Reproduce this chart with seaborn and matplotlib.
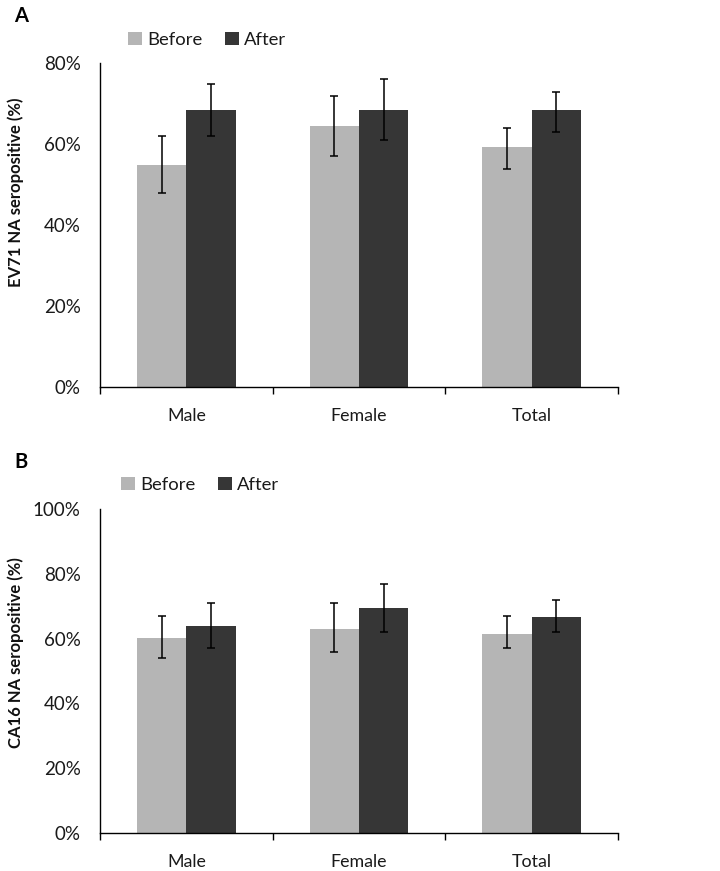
import numpy as np
import pandas as pd
import matplotlib
matplotlib.use("Agg")
import matplotlib.pyplot as plt
from matplotlib.ticker import PercentFormatter, FixedLocator, NullFormatter
from matplotlib.patches import Patch
import seaborn as sns

# ---------------- data ----------------
categories = ["Male", "Female", "Total"]
groups = ["Before", "After"]

ev71_before = [55.0, 64.5, 59.3]
ev71_after = [68.5, 68.5, 68.5]
ev71_before_lo = [48.0, 57.0, 54.0]
ev71_before_hi = [62.0, 72.0, 64.0]
ev71_after_lo = [62.0, 61.0, 63.0]
ev71_after_hi = [75.0, 76.0, 73.0]

ca16_before = [60.3, 63.1, 61.5]
ca16_after = [64.0, 69.5, 66.6]
ca16_before_lo = [54.0, 56.0, 57.0]
ca16_before_hi = [67.0, 71.0, 67.0]
ca16_after_lo = [57.0, 62.0, 62.0]
ca16_after_hi = [71.0, 77.0, 72.0]

colors = {"Before": "#b5b5b5", "After": "#363636"}

sns.set_theme(style="white")
plt.rcParams["font.family"] = ["Lato", "DejaVu Sans"]

fig = plt.figure(figsize=(7.2, 8.71), dpi=100)

def panel(rect, before, after, blo, bhi, alo, ahi, ymax, ylabel, letter,
          letter_xy, leg_xy, ylabel_y):
    ax = fig.add_axes(rect)
    df = pd.DataFrame({
        "category": categories * 2,
        "group": ["Before"] * 3 + ["After"] * 3,
        "value": list(before) + list(after),
    })
    sns.barplot(data=df, x="category", y="value", hue="group",
                order=categories, hue_order=groups, palette=colors,
                width=0.57, gap=0, errorbar=None, saturation=1,
                linewidth=0, ax=ax, legend=False)
    lows = {"Before": blo, "After": alo}
    highs = {"Before": bhi, "After": ahi}
    for cont, g in zip(ax.containers, groups):
        for bar, lo, hi in zip(cont, lows[g], highs[g]):
            xc = bar.get_x() + bar.get_width() / 2
            mid = (lo + hi) / 2
            ax.errorbar([xc], [mid], yerr=[[mid - lo], [hi - mid]], fmt="none",
                        ecolor="black", elinewidth=1.1, capsize=2.7,
                        capthick=1.1, zorder=5)
    ax.set_xlim(-0.5, 2.5)
    ax.set_ylim(0, ymax)
    ax.set_yticks(np.arange(0, ymax + 1, 20))
    ax.yaxis.set_major_formatter(PercentFormatter(xmax=100, decimals=0))
    ax.tick_params(axis="y", direction="out", length=4, width=1,
                   color="black", pad=10, labelsize=13.5, labelcolor="#1a1a1a")
    ax.xaxis.set_minor_locator(FixedLocator([-0.5, 0.5, 1.5, 2.5]))
    ax.xaxis.set_minor_formatter(NullFormatter())
    ax.tick_params(axis="x", which="minor", direction="out", length=5,
                   width=1, color="black", bottom=True)
    ax.tick_params(axis="x", which="major", length=0, pad=15, labelsize=12.8,
                   labelcolor="#1a1a1a")
    ax.set_xlabel("")
    ax.set_ylabel(ylabel, fontsize=12, fontweight="bold", color="#111111")
    ax.yaxis.set_label_coords(-0.147, ylabel_y)
    for s in ["top", "right"]:
        ax.spines[s].set_visible(False)
    for s in ["left", "bottom"]:
        ax.spines[s].set_color("black")
        ax.spines[s].set_linewidth(1.0)
    ax.grid(False)
    handles = [Patch(facecolor=colors[g], edgecolor="none", label=g) for g in groups]
    fig.legend(handles=handles, loc="center left", bbox_to_anchor=leg_xy,
               bbox_transform=fig.transFigure, ncol=2, frameon=False,
               fontsize=13.3, handlelength=0.75, handleheight=0.75,
               handletextpad=0.3, columnspacing=1.2, borderpad=0,
               borderaxespad=0, labelcolor="#1a1a1a")
    fig.text(letter_xy[0], letter_xy[1], letter, fontsize=14.5,
             fontweight="bold", color="black", va="center", ha="left")
    return ax

W, H = 720.0, 871.0
# Panel A
panel([100 / W, 1 - 387.3 / H, 518 / W, 324 / H],
      ev71_before, ev71_after, ev71_before_lo, ev71_before_hi,
      ev71_after_lo, ev71_after_hi, 80, "EV71 NA seropositive (%)",
      "A", (14 / W, 1 - 16 / H), (128 / W, 1 - 40 / H), 0.603)
# Panel B
panel([100 / W, 1 - 833 / H, 518 / W, 324 / H],
      ca16_before, ca16_after, ca16_before_lo, ca16_before_hi,
      ca16_after_lo, ca16_after_hi, 100, "CA16 NA seropositive (%)",
      "B", (14 / W, 1 - 462 / H), (121 / W, 1 - 485 / H), 0.556)

fig.savefig("out.png", dpi=100, facecolor="white")
